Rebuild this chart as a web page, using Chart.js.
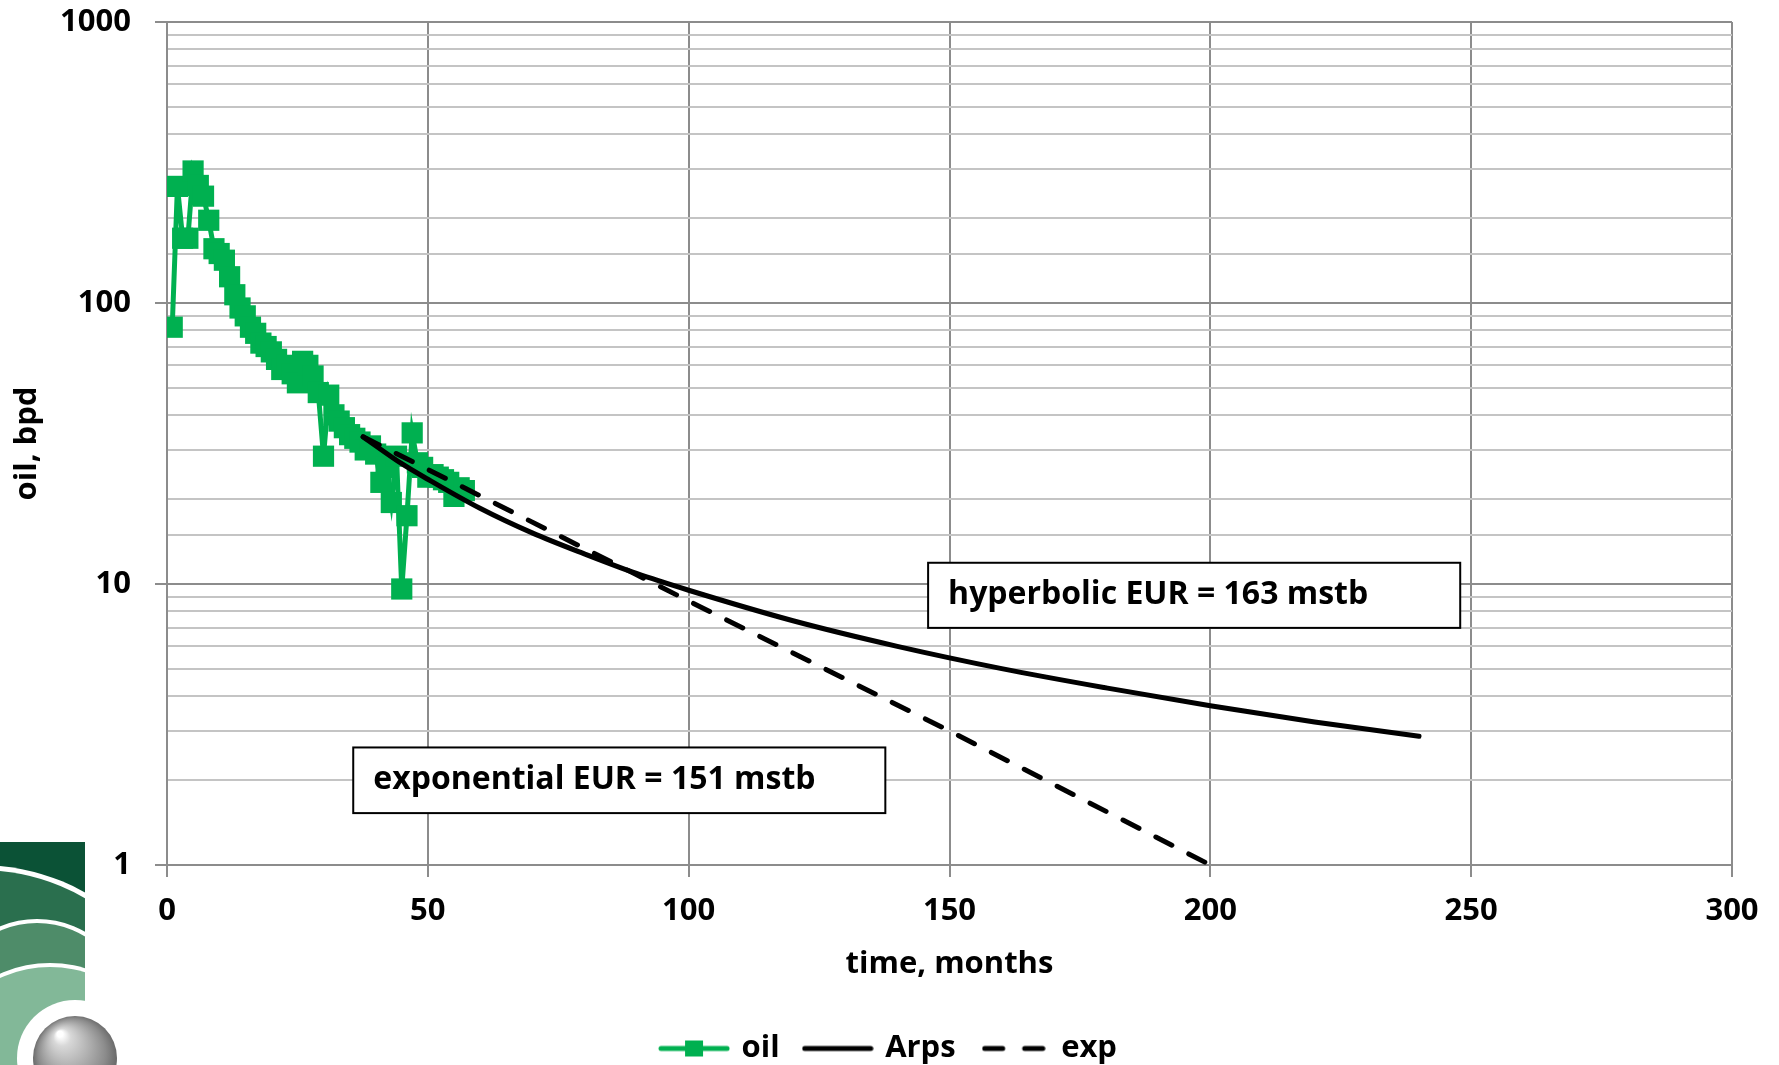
<!DOCTYPE html>
<html>
<head>
<meta charset="utf-8">
<title>oil rate decline</title>
<script src="https://cdn.jsdelivr.net/npm/chart.js@4.4.1/dist/chart.umd.min.js"></script>
<style>
  html, body { margin: 0; padding: 0; background: #fff; }
  #wrap { width: 1779px; height: 1065px; position: relative; }
</style>
</head>
<body>
<div id="wrap"><canvas id="declineChart"></canvas></div>
<script>
// monthly oil rate
const oilMonths = [1, 2, 3, 4, 5, 6, 7, 8, 9, 10, 11, 12, 13, 14, 15, 16, 17, 18, 19, 20,
  21, 22, 23, 24, 25, 26, 27, 28, 29, 30, 31, 32, 33, 34, 35, 36, 37, 38, 39, 40,
  41, 42, 43, 44, 45, 46, 47, 48, 49, 50, 51, 52, 53, 54, 55, 56, 57];
const oilRates = [82, 260, 170, 170, 295, 262, 240, 197, 156, 150, 142, 124, 107, 96, 90, 82, 78, 72, 70, 67,
  63, 58, 60, 56, 52, 62, 60, 55, 48, 28.5, 47, 40, 38, 36, 34, 33, 32, 30, 31, 29,
  23, 26, 19.5, 28.5, 9.6, 17.5, 34.5, 27, 26, 24, 24.5, 24, 23.5, 23, 20.5, 22, 21.5];

// hyperbolic (Arps) forecast
const arpsMonths = [37.6, 45, 50, 60, 70, 80, 90, 100, 120, 140, 160, 180, 200, 220, 240];
const arpsRates = [33.4, 26.8, 23.6, 18.6, 15.2, 12.8, 10.9, 9.5, 7.4, 6.0, 5.0, 4.27, 3.69, 3.23, 2.87];

// exponential forecast
const expMonths = [37.6, 100, 150, 200];
const expRates = [33.4, 8.7, 3.0, 1.0];

const xTicks = [0, 50, 100, 150, 200, 250, 300];
const yTicks = [1, 10, 100, 1000];
const legendNames = ['oil', 'Arps', 'exp'];
const noteTexts = ['hyperbolic EUR = 163 mstb', 'exponential EUR = 151 mstb'];

const GREEN = '#00b050';
const MAJOR = '#8c8c8c';
const MINOR = '#c4c4c4';

Chart.defaults.font.family = '"Open Sans", "Noto Sans", sans-serif';
Chart.defaults.font.size = 31;
Chart.defaults.font.weight = 'bold';
Chart.defaults.color = '#000';

const pts = (xs, ys) => xs.map((x, i) => ({ x: x, y: ys[i] }));
const isDecade = v => Math.abs(Math.log10(v) - Math.round(Math.log10(v))) < 1e-9;

// little canvases used as legend symbols
function makeSymbol(w, h, draw) {
  const c = document.createElement('canvas');
  c.width = w; c.height = h;
  draw(c.getContext('2d'));
  return c;
}
const legendSymbols = [
  makeSymbol(72, 20, g => {
    g.strokeStyle = GREEN; g.lineWidth = 5; g.lineCap = 'round';
    g.beginPath(); g.moveTo(3, 10); g.lineTo(69, 10); g.stroke();
    g.fillStyle = GREEN; g.fillRect(27, 2, 18, 16);
  }),
  makeSymbol(72, 8, g => {
    g.strokeStyle = '#000'; g.lineWidth = 5; g.lineCap = 'round';
    g.beginPath(); g.moveTo(3, 4); g.lineTo(69, 4); g.stroke();
  }),
  makeSymbol(64, 8, g => {
    g.strokeStyle = '#000'; g.lineWidth = 5; g.lineCap = 'round';
    g.beginPath(); g.moveTo(3, 4); g.lineTo(21, 4); g.moveTo(43, 4); g.lineTo(61, 4); g.stroke();
  })
];

// text boxes, corners given in data units
const notesPlugin = {
  id: 'notes',
  afterDatasetsDraw(chart) {
    const { ctx, scales: { x, y } } = chart;
    const boxes = [
      { x0: 145.9, x1: 247.9, y0: 11.9, y1: 6.98, text: noteTexts[0] },
      { x0: 35.7, x1: 137.7, y0: 2.62, y1: 1.53, text: noteTexts[1] }
    ];
    ctx.save();
    ctx.font = 'bold 32px "Open Sans"';
    ctx.textBaseline = 'middle';
    boxes.forEach(b => {
      const l = x.getPixelForValue(b.x0), r = x.getPixelForValue(b.x1);
      const t = y.getPixelForValue(b.y0), bt = y.getPixelForValue(b.y1);
      ctx.fillStyle = '#fff';
      ctx.fillRect(l, t, r - l, bt - t);
      ctx.strokeStyle = '#000';
      ctx.lineWidth = 2;
      ctx.strokeRect(l, t, r - l, bt - t);
      ctx.fillStyle = '#000';
      ctx.fillText(b.text, l + 20, (t + bt) / 2);
    });
    ctx.restore();
  }
};

// company logo in the lower left corner
const logoPlugin = {
  id: 'logo',
  afterDraw(chart) {
    const g = chart.ctx;
    const disc = (cx, cy, r, fill) => {
      g.beginPath(); g.arc(cx, cy, r, 0, Math.PI * 2); g.fillStyle = fill; g.fill();
    };
    g.save();
    g.beginPath(); g.rect(0, 842, 85, 223); g.clip();
    g.fillStyle = '#0b5236'; g.fillRect(0, 842, 85, 223);
    disc(-20, 1080, 215, '#fff'); disc(-20, 1080, 210, '#2a6f4e');
    disc(37, 1015, 96, '#fff'); disc(37, 1015, 92, '#4e8c69');
    disc(50, 1085, 122, '#fff'); disc(50, 1085, 118, '#82b898');
    g.restore();
    disc(75, 1058, 58, '#fff');
    const grad = g.createRadialGradient(60, 1034, 3, 78, 1062, 50);
    grad.addColorStop(0, '#ffffff');
    grad.addColorStop(0.12, '#d8d8d8');
    grad.addColorStop(0.65, '#8c8c8c');
    grad.addColorStop(1, '#4a4a4a');
    disc(75, 1058, 42, grad);
  }
};

new Chart(document.getElementById('declineChart'), {
  type: 'line',
  data: {
    datasets: [
      {
        label: legendNames[0],
        data: pts(oilMonths, oilRates),
        borderColor: GREEN,
        backgroundColor: GREEN,
        borderWidth: 5,
        pointStyle: 'rect',
        pointRadius: 15,
        pointBorderWidth: 0,
        pointBackgroundColor: GREEN,
        order: 2
      },
      {
        label: legendNames[1],
        data: pts(arpsMonths, arpsRates),
        borderColor: '#000',
        borderWidth: 5,
        borderCapStyle: 'round',
        cubicInterpolationMode: 'monotone',
        pointRadius: 0,
        order: 0
      },
      {
        label: legendNames[2],
        data: pts(expMonths, expRates),
        borderColor: '#000',
        borderWidth: 5,
        borderDash: [18, 19],
        borderCapStyle: 'round',
        pointRadius: 0,
        order: 1
      }
    ]
  },
  options: {
    responsive: true,
    maintainAspectRatio: false,
    animation: false,
    layout: { padding: { left: 0, right: 0, top: 22, bottom: -9 } },
    scales: {
      x: {
        type: 'linear',
        min: 0,
        max: 300,
        afterBuildTicks: s => { s.ticks = xTicks.map(v => ({ value: v })); },
        ticks: { padding: 16, autoSkip: false, maxRotation: 0 },
        grid: { color: MAJOR, lineWidth: 2, tickLength: 12 },
        border: { color: MAJOR, width: 2 },
        title: { display: true, text: 'time, months', padding: { top: 0, bottom: 24 } },
        afterFit: s => { s.height = 142; }
      },
      y: {
        type: 'logarithmic',
        min: 1,
        max: 1000,
        ticks: {
          autoSkip: false,
          padding: 24,
          callback: v => (yTicks.includes(v) ? String(v) : '')
        },
        grid: {
          color: c => (isDecade(c.tick.value) ? MAJOR : MINOR),
          tickColor: c => (isDecade(c.tick.value) ? MAJOR : 'rgba(0,0,0,0)'),
          lineWidth: 2,
          tickLength: 12
        },
        border: { color: MAJOR, width: 2 },
        title: { display: true, text: 'oil, bpd', padding: { top: 9, bottom: 0 } },
        afterFit: s => { s.width = 167; s.paddingTop = 0; s.paddingBottom = 0; }
      },
      // empty right-hand axis, only keeps the margin so the legend stays centred
      yRight: {
        type: 'linear',
        position: 'right',
        ticks: { display: false },
        grid: { display: false },
        border: { display: false },
        afterFit: s => { s.width = 47; s.paddingTop = 0; s.paddingBottom = 0; }
      }
    },
    plugins: {
      legend: {
        position: 'bottom',
        onClick: () => {},
        labels: {
          usePointStyle: true,
          pointStyleWidth: 64,
          padding: 26,
          color: '#000',
          font: { size: 31, weight: 'bold' },
          generateLabels: () => legendNames.map((name, i) => ({
            text: name,
            pointStyle: legendSymbols[i],
            fillStyle: 'rgba(0,0,0,0)',
            strokeStyle: 'rgba(0,0,0,0)',
            lineWidth: 0,
            hidden: false,
            datasetIndex: i,
            fontColor: '#000'
          }))
        }
      },
      tooltip: { enabled: false }
    }
  },
  plugins: [notesPlugin, logoPlugin]
});
</script>
</body>
</html>
